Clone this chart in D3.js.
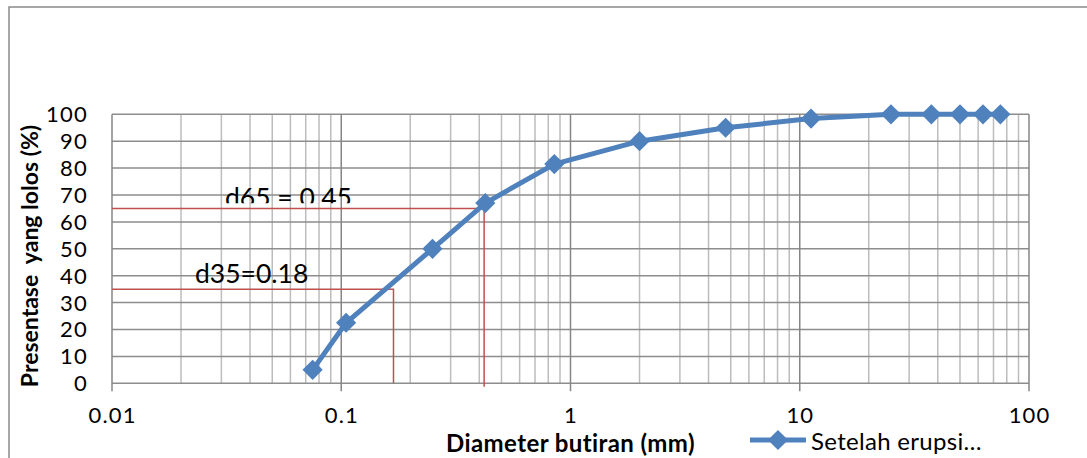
<!DOCTYPE html>
<html>
<head>
<meta charset="utf-8">
<script src="https://cdn.jsdelivr.net/npm/d3@7"></script>
<style>
  body { margin: 0; background: #fff; }
  svg { display: block; font-family: Lato, "Liberation Sans", Arial, sans-serif; }
</style>
</head>
<body>
<div id="chart"></div>
<script>
// sieve sizes (mm) and percent passing
var sizes = [0.075, 0.105, 0.25, 0.425, 0.85, 2, 4.75, 11.2, 25, 37.5, 50, 63, 75];
var passing = [5, 22.5, 50, 67, 81.5, 90, 95, 98.4, 100, 100, 100, 100, 100];
var xTicks = [0.01, 0.1, 1, 10, 100];
var xTickLabels = ["0.01", "0.1", "1", "10", "100"];
var yTicks = [0, 10, 20, 30, 40, 50, 60, 70, 80, 90, 100];
// reference lines: label, percent, diameter where drawn
var refNames = ["d65 = 0.45", "d35=0.18"];
var refPercent = [65, 35];
var refDiameter = [0.42, 0.169];
var seriesName = "Setelah erupsi…";

var svgWidth = 1087, svgHeight = 458;
var margin = { top: 114.3, left: 112, right: 58, bottom: 74.7 };
var width = svgWidth - margin.left - margin.right;
var height = svgHeight - margin.top - margin.bottom;

var svg = d3.select("#chart").append("svg")
  .attr("width", svgWidth)
  .attr("height", svgHeight);

// outer chart frame (only top and left visible)
svg.append("path")
  .attr("d", "M9,458 V7 H1087")
  .attr("fill", "none")
  .attr("stroke", "#8a8a8a")
  .attr("stroke-width", 1.5);

var g = svg.append("g").attr("transform", `translate(${margin.left},${margin.top})`);

var x = d3.scaleLog().domain([0.01, 100]).range([0, width]);
var y = d3.scaleLinear().domain([0, 100]).range([height, 0]);

// minor vertical grid
var minor = [];
[0.01, 0.1, 1, 10].forEach(function(dec) {
  for (var k = 2; k <= 9; k++) minor.push(dec * k);
});
g.selectAll(".vminor").data(minor).enter().append("line")
  .attr("x1", d => x(d)).attr("x2", d => x(d))
  .attr("y1", 0).attr("y2", height)
  .attr("stroke", "#bdbdbd").attr("stroke-width", 1.5);

// horizontal grid
g.selectAll(".hgrid").data(yTicks).enter().append("line")
  .attr("x1", 0).attr("x2", width)
  .attr("y1", d => y(d)).attr("y2", d => y(d))
  .attr("stroke", "#8d8d8d").attr("stroke-width", 1.5);

// major vertical grid + ticks below axis
g.selectAll(".vmajor").data(xTicks).enter().append("line")
  .attr("x1", d => x(d)).attr("x2", d => x(d))
  .attr("y1", 0).attr("y2", height + 8)
  .attr("stroke", "#868686").attr("stroke-width", 1.5);

// x tick labels
g.selectAll(".xlab").data(xTicks).enter().append("text")
  .attr("x", d => x(d) + 0.6)
  .attr("y", height + 40)
  .attr("text-anchor", "middle")
  .attr("font-size", 22)
  .attr("letter-spacing", 1.2)
  .attr("fill", "#000")
  .text((d, i) => xTickLabels[i]);

// y tick labels
g.selectAll(".ylab").data(yTicks).enter().append("text")
  .attr("x", -24)
  .attr("y", d => y(d))
  .attr("dy", "0.36em")
  .attr("text-anchor", "end")
  .attr("font-size", 22)
  .attr("letter-spacing", 1.2)
  .attr("fill", "#000")
  .text(d => d);

// reference lines
var red = "#c0504d";
refPercent.forEach(function(p, i) {
  g.append("path")
    .attr("d", `M0,${y(p)} H${x(refDiameter[i])} V${height + (i === 0 ? 3.5 : 0)}`)
    .attr("fill", "none")
    .attr("stroke", red)
    .attr("stroke-width", 1.5);
});

// clip for the d65 label (its box cuts the bottom off)
svg.append("clipPath").attr("id", "cut65")
  .append("rect").attr("x", 0).attr("y", 0).attr("width", svgWidth).attr("height", 203.3);

svg.append("text")
  .attr("x", 225).attr("y", 206.5)
  .attr("font-size", 26.5)
  .attr("clip-path", "url(#cut65)")
  .attr("xml:space", "preserve")
  .text(refNames[0]);

svg.append("text")
  .attr("x", 195).attr("y", 282.5)
  .attr("font-size", 26.5)
  .text(refNames[1]);

// series line
var blue = "#4f81bd";
var pts = sizes.map((s, i) => [s, passing[i]]);
g.append("path")
  .datum(pts)
  .attr("fill", "none")
  .attr("stroke", blue)
  .attr("stroke-width", 5)
  .attr("stroke-linejoin", "round")
  .attr("d", d3.line().x(d => x(d[0])).y(d => y(d[1])));

var diamond = d3.symbol().type(d3.symbolDiamond2).size(260);
g.selectAll(".pt").data(pts).enter().append("path")
  .attr("transform", d => `translate(${x(d[0])},${y(d[1])})`)
  .attr("d", diamond)
  .attr("fill", blue);

// axis titles
svg.append("text")
  .attr("x", (443 + 698) / 2).attr("y", 452)
  .attr("text-anchor", "middle")
  .attr("font-size", 24)
  .attr("letter-spacing", 0.4)
  .attr("font-weight", "bold")
  .text("Diameter butiran (mm)");

svg.append("text")
  .attr("transform", "translate(38,256) rotate(-90)")
  .attr("text-anchor", "middle")
  .attr("font-size", 23)
  .attr("font-weight", "bold")
  .attr("xml:space", "preserve")
  .text("Presentase  yang lolos (%)");

// legend
svg.append("line")
  .attr("x1", 750).attr("x2", 806).attr("y1", 440).attr("y2", 440)
  .attr("stroke", blue).attr("stroke-width", 5);
svg.append("path")
  .attr("transform", "translate(778,440)")
  .attr("d", diamond)
  .attr("fill", blue);
svg.append("text")
  .attr("x", 811).attr("y", 450)
  .attr("font-size", 24)
  .attr("letter-spacing", 0.3)
  .text(seriesName);
</script>
</body>
</html>
